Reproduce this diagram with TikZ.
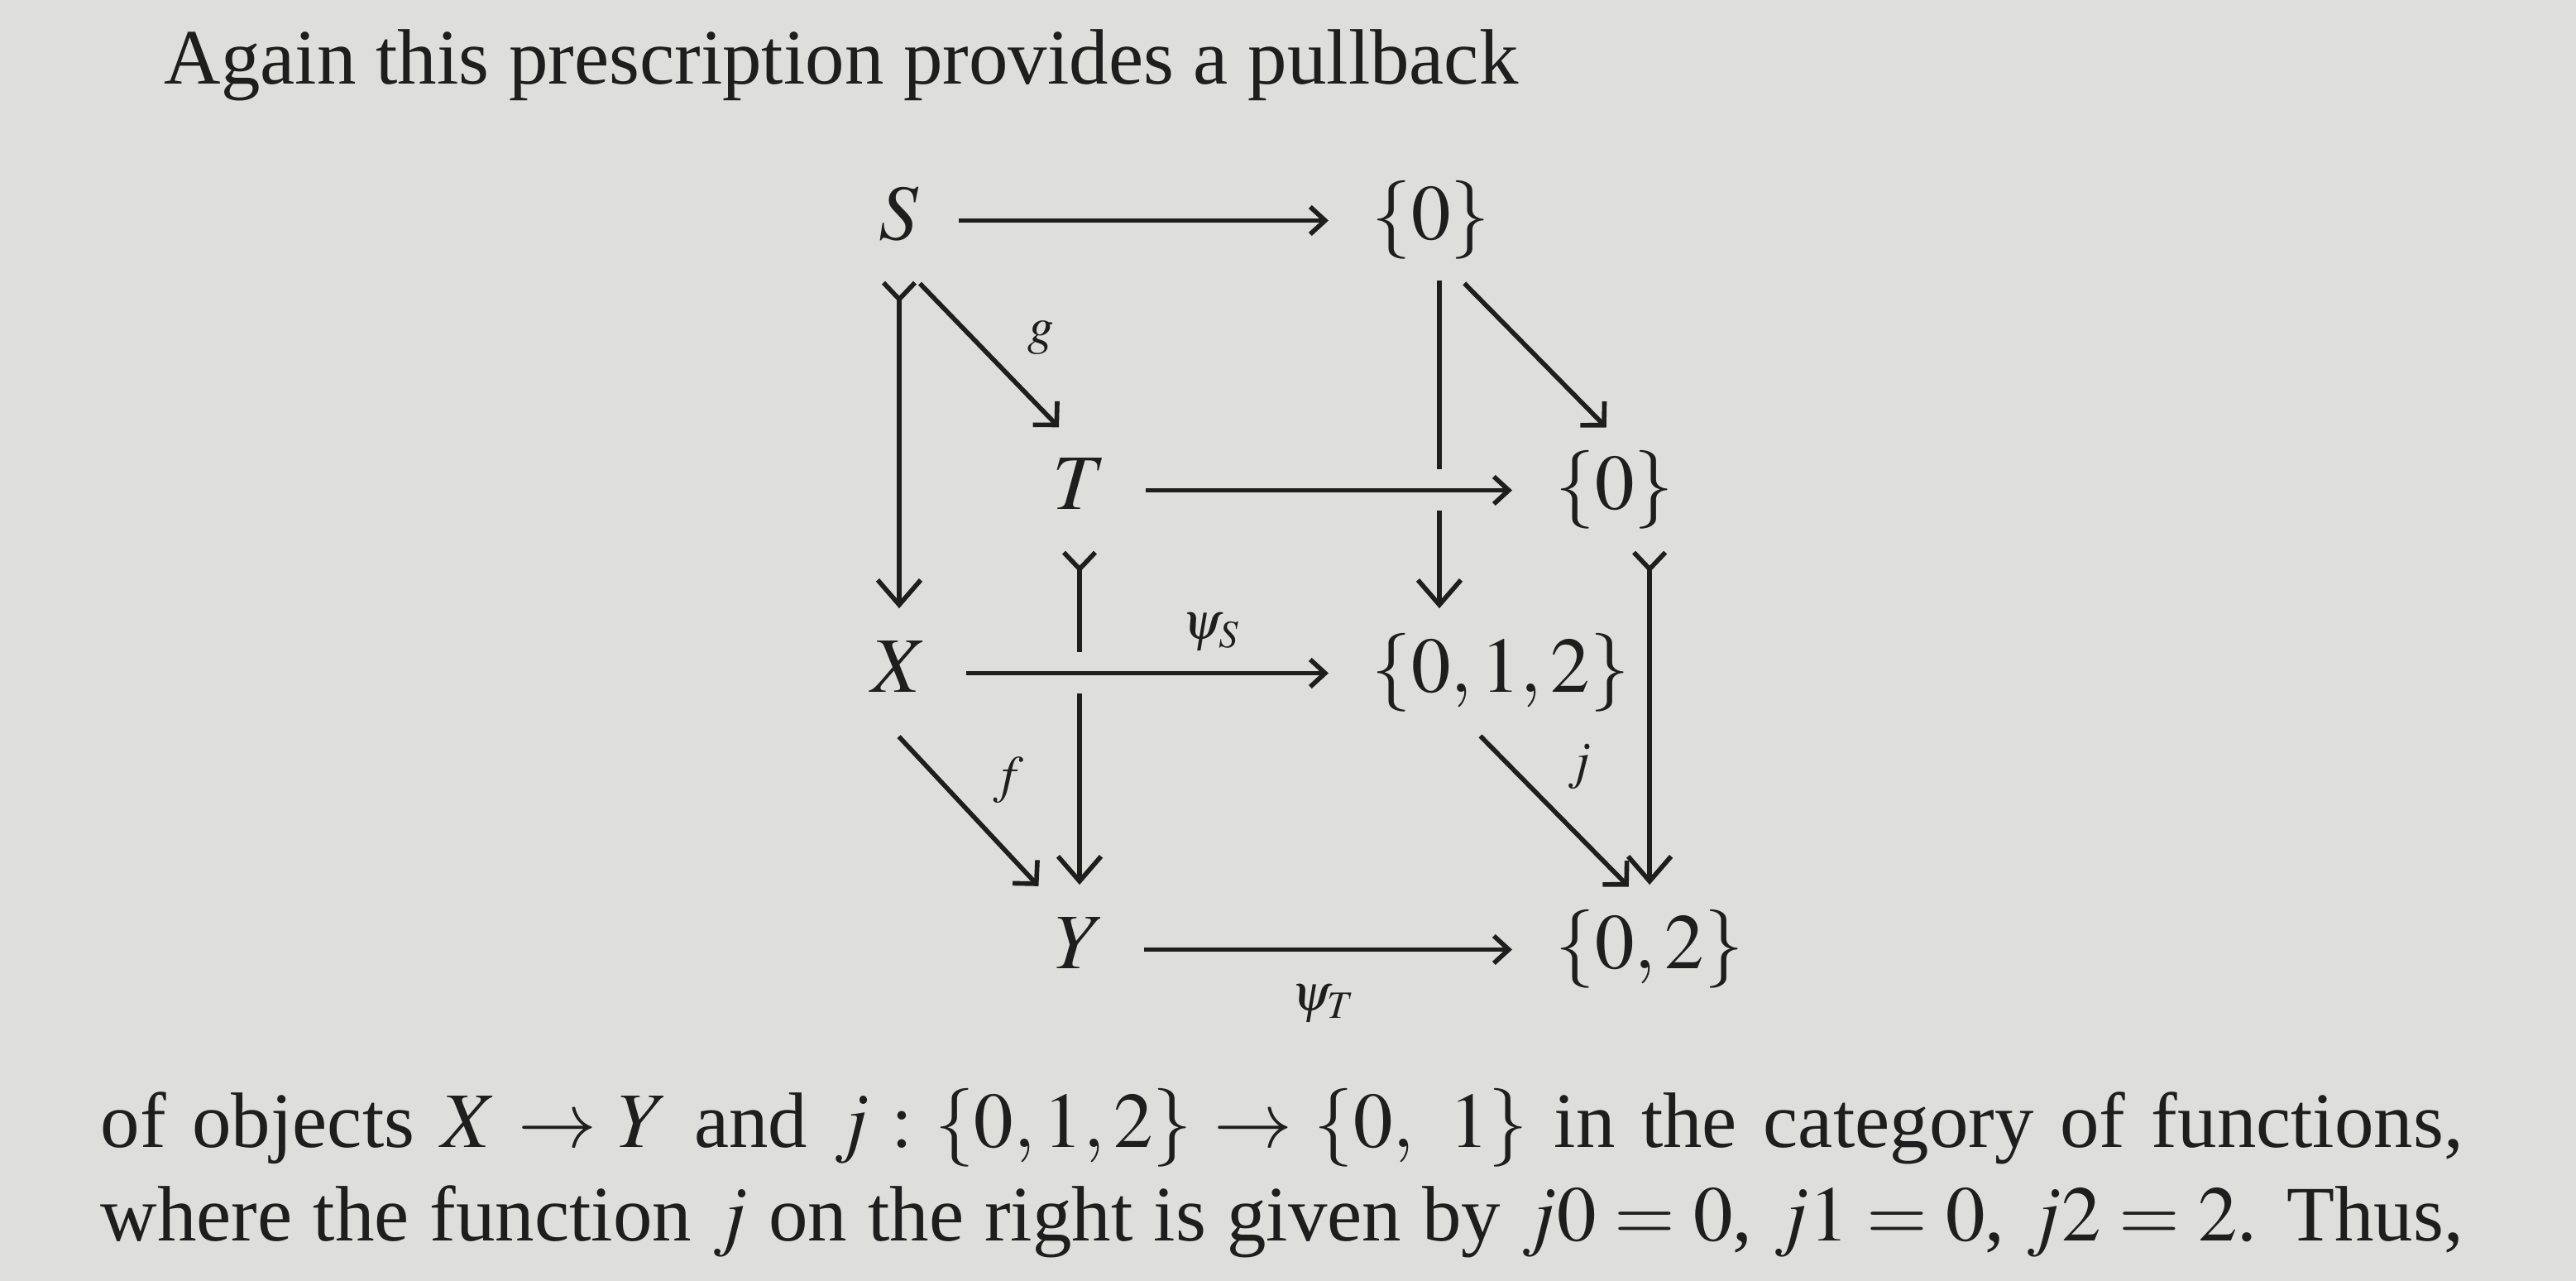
\documentclass[tikz,border=0pt]{standalone}
\usepackage{mathptmx}
\usepackage[no-math]{fontspec}
\setmainfont{Liberation Serif}
\definecolor{PaperGray}{RGB}{222, 222, 220}
\definecolor{InkBlack}{RGB}{30, 30, 30}
\usetikzlibrary{arrows.meta, positioning}
\tikzset{
  obj/.style={inner sep=0pt, text height=0.71cm, text depth=0.24cm},
  lbl/.style={font=\fontsize{18}{21}\selectfont},
  arr/.style={-{Straight Barb[length=1.8mm, width=3.3mm]}},
  down/.style={-{Straight Barb[length=3mm, width=5.2mm]}},
  mono/.style={{Straight Barb[reversed, length=2mm, width=3.8mm]}-{Straight Barb[length=3mm, width=5.2mm]}},
  diag/.style={-{Straight Barb[length=2mm, width=4.1mm]}, shorten <=3.6mm, shorten >=3.6mm},
  hor/.style={shorten <=4.5mm, shorten >=5mm},
  vert/.style={shorten <=2.2mm, shorten >=2.8mm},
  over/.style={preaction={-, draw=PaperGray, line width=5mm}}
}

\begin{document}
\begin{tikzpicture}[color=InkBlack, line width=1.6pt, font=\fontsize{27}{32}\selectfont]
            \fill[PaperGray] (0,0) rectangle (31.14,15.48);
            \node[anchor=base west, inner sep=0pt] (head) at (1.96,14.46) {Again this prescription provides a pullback};
            \node[obj] (S) at (10.87,12.815) {$S$};
            \node[obj, anchor=west] (zb) at (16.56,12.815) {$\{0\}$};
            \node[obj] (T) at (13.05,9.555) {$T$};
            \node[obj, anchor=west] (zf) at (18.78,9.555) {$\{0\}$};
            \node[obj] (X) at (10.87,7.345) {$X$};
            \node[obj, anchor=west] (zm) at (16.56,7.345) {$\{0,1,2\}$};
            \node[obj] (Y) at (13.05,4.005) {$Y$};
            \node[obj, anchor=west] (ztwo) at (18.78,4.005) {$\{0,2\}$};
            \draw[mono, vert] (S) -- (X);
            \draw[mono, vert] (T) -- (Y);
            \draw[down, vert] ([xshift=1mm]zb.south) -- ([xshift=1mm]zb.south |- zm.north);
            \draw[mono, vert] (zf.south -| ztwo.north) -- (ztwo.north);
            \draw[diag] (S.south) -- node[lbl, right=5.3mm, pos=0.405] (lg) {$g$} (T.north);
            \draw[diag] ([xshift=1.5mm]zb.south) -- ([xshift=1.5mm]zf.north);
            \draw[diag] ([xshift=-2.5mm]X.south) -- node[lbl, right=5mm, pos=0.34] (lf) {$f$} ([xshift=-2.5mm]Y.north);
            \draw[diag] ([xshift=-5mm]zm.south) -- node[lbl, right=5.4mm, pos=0.27] (lj) {$j$} (ztwo.north);
            \draw[arr, hor] (S) -- (zb);
            \draw[arr, hor, over] (T) -- (zf);
            \draw[arr, hor, over] (X) -- node[lbl, above=1.2mm, pos=0.64] (ls) {$\psi_S$} (zm);
            \draw[arr, hor] (Y) -- node[lbl, below=2.8mm, pos=0.485] (lt) {$\psi_T$} (ztwo);
            \node[anchor=base west, inner sep=0pt] (body1) at (1.19,1.61) {\makebox[28.56cm][s]{of objects $X\to Y$ and $j:\{0,1,2\}\to\{0,\ 1\}$ in the category of functions,}};
            \node[anchor=base west, inner sep=0pt] (body2) at (1.19,0.48) {\makebox[28.56cm][s]{where the function $j$ on the right is given by $j0=0$, $j1=0$, $j2=2$. Thus,}};
        \end{tikzpicture}
\end{document}
